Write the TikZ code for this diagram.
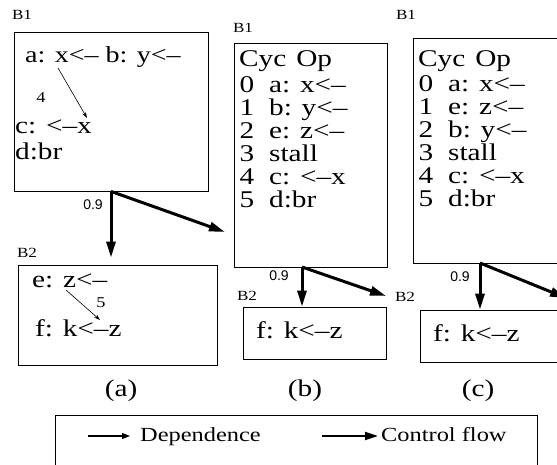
\documentclass[tikz,border=0pt]{standalone}
\usepackage{fontspec}
\setmainfont{Liberation Serif}[FakeStretch=1.22]
\setsansfont{Liberation Sans}
\usepackage{tikz}
\usetikzlibrary{arrows.meta, positioning, calc}

\begin{document}
\begin{tikzpicture}[
    x=1pt, y=-1pt,
    blk/.style={rectangle, draw, line width=0.8pt, inner sep=0pt},
    op/.style={anchor=west, inner sep=0pt, text height=15pt, text depth=4pt, font=\fontsize{24}{24}\selectfont},
    cyc/.style={inner sep=0pt, text height=15pt, text depth=4pt, font=\fontsize{24}{24}\selectfont},
    tag/.style={inner sep=0pt, font=\fontsize{14}{14}\selectfont},
    prob/.style={inner sep=0pt, font=\sffamily\fontsize{14}{14}\selectfont},
    lat/.style={inner sep=0pt, font=\fontsize{15}{15}\selectfont},
    dep/.style={-{Stealth[length=6pt,width=4pt]}, line width=0.6pt},
    cflow/.style={-{Triangle[length=16pt,width=9pt]}, line width=3pt}
]
    \useasboundingbox (0,0) rectangle (557,465);
    \clip (0,0) rectangle (557,465);

    % (a) original blocks
    \node[blk, minimum width=194pt, minimum height=159pt] (b1a) at (111,111.5) {};
    \node[tag] (t1a) at (22,15) {B1};
    \node[op, font=\fontsize{23}{23}\selectfont] (opa) at (25,57) {a: x<– b: y<–};
    \node[op] (opc) at (15,128) {c: <–x};
    \node[op] (opd) at (15,154) {d:br};
    \node[lat] (l4) at (41,98) {4};
    \coordinate (xa) at (58,68);
    \coordinate (xc) at (87,118);
    \draw[dep] (xa) -- (xc);

    \node[blk, minimum width=199pt, minimum height=100pt] (b2a) at (117.5,315) {};
    \node[tag] (t2a) at (27,253) {B2};
    \node[op] (ope) at (32,282) {e: z<–};
    \node[op] (opf) at (35,331) {f: k<–z};
    \node[lat] (l5) at (101,303) {5};
    \coordinate (za) at (66,290);
    \coordinate (zf) at (100,320);
    \draw[dep] (za) -- (zf);

    % control flow out of B1
    \coordinate (ja) at (b1a.south);
    \coordinate (sa) at (225,232);
    \draw[cflow] (ja) -- ($(ja |- b2a.north)+(0,-7)$);
    \draw[cflow] (ja) -- (sa);
    \node[prob] (pa) at (93,205) {0.9};
    \node[cyc] (capa) at (121,391) {(a)};

    % (b) schedule one
    \node[blk, minimum width=153pt, minimum height=224pt] (b1b) at (310.5,155) {};
    \node[tag] (t1b) at (243,28) {B1};
    \node[op] (hb) at (239,61) {Cyc\hspace{10pt}Op};
    \foreach \c/\o [count=\i from 0] in {0/a: x<–, 1/b: y<–, 2/e: z<–, 3/stall, 4/c: <–x, 5/d:br} {
        \node[cyc] (cb\i) at (247,{87+23*\i}) {\c};
        \node[op] (ob\i) at (269,{87+23*\i}) {\o};
    }
    \node[blk, minimum width=143pt, minimum height=52pt] (b2b) at (314.5,333) {};
    \node[tag] (t2b) at (247,296) {B2};
    \node[op] (fb) at (256,333) {f: k<–z};
    \coordinate (jb) at (302,267);
    \coordinate (sb) at (386,296);
    \draw[cflow] (jb) -- (jb |- b2b.north);
    \draw[cflow] (jb) -- (sb);
    \node[prob] (pb) at (279,276) {0.9};
    \node[cyc] (capb) at (305,391) {(b)};

    % (c) schedule two
    \node[blk, minimum width=153pt, minimum height=225pt] (b1c) at (489.5,150.5) {};
    \node[tag] (t1c) at (406,15) {B1};
    \node[op] (hc) at (418,61) {Cyc\hspace{10pt}Op};
    \foreach \c/\o [count=\i from 0] in {0/a: x<–, 1/e: z<–, 2/b: y<–, 3/stall, 4/c: <–x, 5/d:br} {
        \node[cyc] (cc\i) at (426,{86+23*\i}) {\c};
        \node[op] (oc\i) at (448,{86+23*\i}) {\o};
    }
    \node[blk, minimum width=146pt, minimum height=52pt] (b2c) at (493,336) {};
    \node[tag] (t2c) at (405,297) {B2};
    \node[op] (fc) at (433,336) {f: k<–z};
    \coordinate (jc) at (480,263);
    \coordinate (sc) at (566,298);
    \draw[cflow] (jc) -- (jc |- b2c.north);
    \draw[cflow] (jc) -- (sc);
    \node[prob] (pc) at (460,277) {0.9};
    \node[cyc] (capc) at (478,391) {(c)};

    % legend
    \node[blk, minimum width=482pt, minimum height=80pt, anchor=north west] (leg) at (55,415) {};
    \coordinate (d0) at (88,436);
    \coordinate (d1) at (130,436);
    \draw[-{Triangle[length=8pt,width=6pt]}, line width=1.2pt] (d0) -- (d1);
    \node[op, font=\fontsize{20}{20}\selectfont] (ld) at (140,436) {Dependence};
    \coordinate (c0) at (322,436);
    \coordinate (c1) at (378,436);
    \draw[-{Triangle[length=13pt,width=8pt]}, line width=2pt] (c0) -- (c1);
    \node[op, font=\fontsize{20}{20}\selectfont] (lc) at (381,436) {Control flow};
\end{tikzpicture}
\end{document}
